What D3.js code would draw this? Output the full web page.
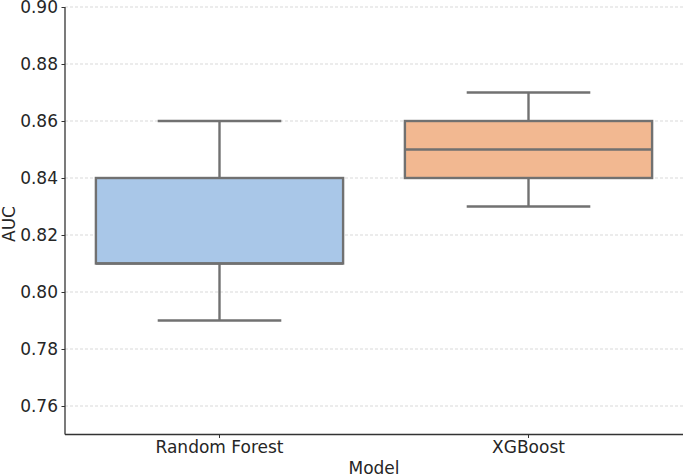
<!DOCTYPE html>
<html>
<head>
<meta charset="utf-8">
<script src="https://cdn.jsdelivr.net/npm/d3@7"></script>
<style>
  body { margin: 0; background: #fff; }
  text { font-family: "DejaVu Sans", sans-serif; fill: #262626; }
</style>
</head>
<body>
<svg id="chart" width="685" height="476"></svg>
<script>
// data
const models = ["Random Forest", "XGBoost"];
const whiskerLow = [0.79, 0.83];
const q1 = [0.81, 0.84];
const median = [0.81, 0.85];
const q3 = [0.84, 0.86];
const whiskerHigh = [0.86, 0.87];
const fills = ["#a9c7e8", "#f2b891"];
const yTicks = [0.76, 0.78, 0.80, 0.82, 0.84, 0.86, 0.88, 0.90];

const svg = d3.select("#chart");
const margin = { left: 65, right: 2, top: 7, bottom: 41.5 };
const width = 685 - margin.left - margin.right;
const height = 476 - margin.top - margin.bottom;
const fontSize = 17;

const g = svg.append("g").attr("transform", `translate(${margin.left},${margin.top})`);

const x = d3.scaleBand().domain(models).range([0, width]).paddingInner(0).paddingOuter(0);
const y = d3.scaleLinear().domain([0.75, 0.90]).range([height, 0]);

// grid
g.selectAll(".grid")
  .data(yTicks)
  .join("line")
  .attr("class", "grid")
  .attr("x1", 0)
  .attr("x2", width)
  .attr("y1", (d) => y(d))
  .attr("y2", (d) => y(d))
  .attr("stroke", "#cfcfcf")
  .attr("stroke-width", 0.8)
  .attr("stroke-dasharray", "3,2");

const boxes = models.map((m, i) => ({
  m, lo: whiskerLow[i], q1: q1[i], med: median[i], q3: q3[i], hi: whiskerHigh[i], fill: fills[i]
}));

const boxW = x.bandwidth() * 0.8;
const capW = boxW / 2;
const stroke = "#717171";
const sw = 2.4;

const bg = g.selectAll(".box").data(boxes).join("g").attr("class", "box")
  .attr("transform", (d) => `translate(${x(d.m) + x.bandwidth() / 2},0)`);

// whiskers
bg.append("line").attr("x1", 0).attr("x2", 0)
  .attr("y1", (d) => y(d.q3)).attr("y2", (d) => y(d.hi))
  .attr("stroke", stroke).attr("stroke-width", sw);
bg.append("line").attr("x1", 0).attr("x2", 0)
  .attr("y1", (d) => y(d.q1)).attr("y2", (d) => y(d.lo))
  .attr("stroke", stroke).attr("stroke-width", sw);
// caps
bg.append("line").attr("x1", -capW / 2).attr("x2", capW / 2)
  .attr("y1", (d) => y(d.hi)).attr("y2", (d) => y(d.hi))
  .attr("stroke", stroke).attr("stroke-width", sw);
bg.append("line").attr("x1", -capW / 2).attr("x2", capW / 2)
  .attr("y1", (d) => y(d.lo)).attr("y2", (d) => y(d.lo))
  .attr("stroke", stroke).attr("stroke-width", sw);
// box
bg.append("rect")
  .attr("x", -boxW / 2).attr("width", boxW)
  .attr("y", (d) => y(d.q3)).attr("height", (d) => y(d.q1) - y(d.q3))
  .attr("fill", (d) => d.fill)
  .attr("stroke", stroke).attr("stroke-width", sw);
// median
bg.append("line").attr("x1", -boxW / 2).attr("x2", boxW / 2)
  .attr("y1", (d) => y(d.med)).attr("y2", (d) => y(d.med))
  .attr("stroke", stroke).attr("stroke-width", sw);

// axes
const yAxis = g.append("g")
  .call(d3.axisLeft(y).tickValues(yTicks).tickFormat(d3.format(".2f")).tickSize(3.5).tickPadding(3.5));
const xAxis = g.append("g").attr("transform", `translate(0,${height})`)
  .call(d3.axisBottom(x).tickSize(3.5).tickPadding(3));

[yAxis, xAxis].forEach((a) => {
  a.select(".domain").attr("stroke", "#333").attr("stroke-width", 1.3);
  a.selectAll(".tick line").attr("stroke", "#333").attr("stroke-width", 1);
  a.selectAll(".tick text").attr("font-size", fontSize).attr("font-family", "DejaVu Sans, sans-serif").attr("fill", "#262626");
});
xAxis.select(".domain").attr("d", `M0,0H${width}`);
yAxis.select(".domain").attr("d", `M0,${height}V0`);

// axis titles
svg.append("text")
  .attr("x", margin.left + width / 2)
  .attr("y", 474)
  .attr("text-anchor", "middle")
  .attr("font-size", fontSize)
  .text("Model");

svg.append("text")
  .attr("transform", `translate(15,224) rotate(-90)`)
  .attr("text-anchor", "middle")
  .attr("font-size", fontSize)
  .text("AUC");
</script>
</body>
</html>
